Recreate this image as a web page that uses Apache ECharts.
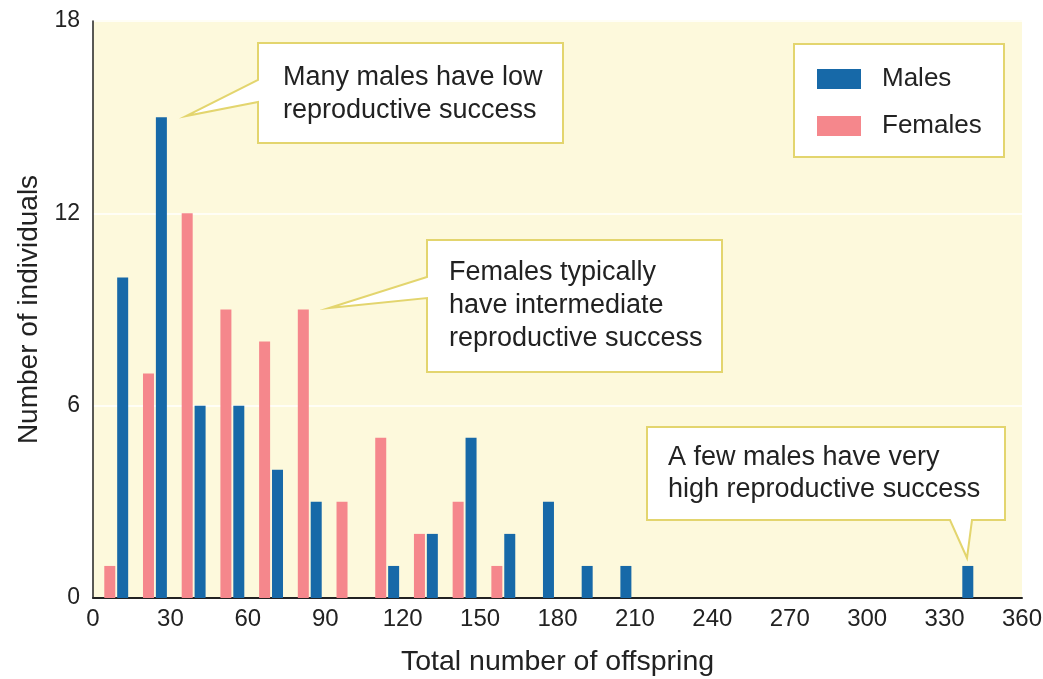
<!DOCTYPE html>
<html>
<head>
<meta charset="utf-8">
<script src="https://cdn.jsdelivr.net/npm/echarts@6/dist/echarts.min.js"></script>
<style>
html,body{margin:0;padding:0;background:#fff;}
#c{width:1043px;height:679px;}
</style>
</head>
<body>
<div id="c"></div>
<script>
// Data
const femaleOffspring = [6.5, 21.5, 36.5, 51.5, 66.5, 81.5, 96.5, 111.5, 126.5, 141.5, 156.5];
const femaleCounts    = [1, 7, 12, 9, 8, 9, 3, 5, 2, 3, 1];
const maleOffspring   = [11.5, 26.5, 41.5, 56.5, 71.5, 86.5, 116.5, 131.5, 146.5, 161.5, 176.5, 191.5, 206.5, 339];
const maleCounts      = [10, 15, 6, 6, 4, 3, 1, 2, 5, 2, 3, 1, 1, 1];
const xTicks = [0, 30, 60, 90, 120, 150, 180, 210, 240, 270, 300, 330, 360];
const yTicks = [0, 6, 12, 18];
const callouts = [
  ["Many males have low", "reproductive success"],
  ["Females typically", "have intermediate", "reproductive success"],
  ["A few males have very", "high reproductive success"]
];

const FONT = "'Liberation Sans', Arial, Helvetica, sans-serif";
const NARROW = "'Liberation Sans Narrow', 'Arial Narrow', 'Liberation Sans', sans-serif";
const BLUE = '#1769a8';
const PINK = '#f5878c';
const BORDER = '#e3d56e';

const chart = echarts.init(document.getElementById('c'), null, {renderer: 'canvas'});

function pairs(xs, ys) { return xs.map((x, i) => [x, ys[i]]); }

function calloutGraphic(points, lines, textX, textY0, lineStep) {
  const els = [{
    type: 'polygon',
    shape: {points: points},
    style: {fill: '#ffffff', stroke: BORDER, lineWidth: 2},
    z: 100
  }];
  lines.forEach((t, i) => {
    els.push({
      type: 'text',
      x: textX, y: textY0 + i * lineStep,
      style: {text: t, fill: '#222', font: '27px ' + FONT, textVerticalAlign: 'middle', textAlign: 'left'},
      z: 101
    });
  });
  return els;
}

const graphics = []
  .concat(calloutGraphic(
    [[258,43],[563,43],[563,143],[258,143],[258,102],[186,116],[258,80]],
    callouts[0], 283, 78, 33))
  .concat(calloutGraphic(
    [[427,240],[722,240],[722,372],[427,372],[427,298],[329,308],[427,277]],
    callouts[1], 449, 273, 33))
  .concat(calloutGraphic(
    [[647,427],[1005,427],[1005,520],[972,520],[967,558],[950,520],[647,520]],
    callouts[2], 668, 458, 32))
  .concat([{
    type: 'rect',
    shape: {x: 794, y: 44, width: 210, height: 113},
    style: {fill: '#ffffff', stroke: BORDER, lineWidth: 2},
    z: 100
  }]);

chart.setOption({
  animation: false,
  backgroundColor: '#ffffff',
  textStyle: {fontFamily: FONT},
  grid: {
    left: 93, right: 21, top: 21, bottom: 81,
    outerBoundsMode: 'none',
    containLabel: false,
    show: true, backgroundColor: '#fdf9dc', borderWidth: 0
  },
  legend: {
    orient: 'vertical',
    left: 812, top: 61,
    itemWidth: 44, itemHeight: 20, itemGap: 21,
    icon: 'rect',
    z: 110,
    textStyle: {fontSize: 26, color: '#222', fontFamily: FONT, padding: [0, 0, 0, 16]},
    data: ['Males', 'Females']
  },
  xAxis: {
    type: 'value',
    min: 0, max: 360, interval: 30,
    name: 'Total number of offspring',
    nameLocation: 'middle',
    nameGap: 50,
    nameTextStyle: {fontSize: 28.5, color: '#222', fontFamily: FONT},
    axisLine: {show: true, lineStyle: {color: '#222', width: 2}},
    axisTick: {show: false},
    splitLine: {show: false},
    axisLabel: {
      fontSize: 24, color: '#222', margin: 9, fontFamily: NARROW,
      customValues: xTicks
    }
  },
  yAxis: {
    type: 'value',
    min: 0, max: 18, interval: 6,
    name: 'Number of individuals',
    nameLocation: 'middle',
    nameGap: 50,
    nameTextStyle: {fontSize: 28, color: '#222', fontFamily: FONT},
    axisLine: {show: true, lineStyle: {color: '#222', width: 1.5}},
    axisTick: {show: false},
    splitLine: {show: true, lineStyle: {color: '#fffef6', width: 2}},
    axisLabel: {fontSize: 23, color: '#222', margin: 13, fontFamily: FONT, customValues: yTicks}
  },
  series: [
    {
      name: 'Males', type: 'bar',
      data: pairs(maleOffspring, maleCounts),
      barWidth: 11, barGap: '-100%',
      itemStyle: {color: BLUE},
      z: 3
    },
    {
      name: 'Females', type: 'bar',
      data: pairs(femaleOffspring, femaleCounts),
      barWidth: 11, barGap: '-100%',
      itemStyle: {color: PINK},
      z: 3
    }
  ],
  graphic: graphics
});
</script>
</body>
</html>
